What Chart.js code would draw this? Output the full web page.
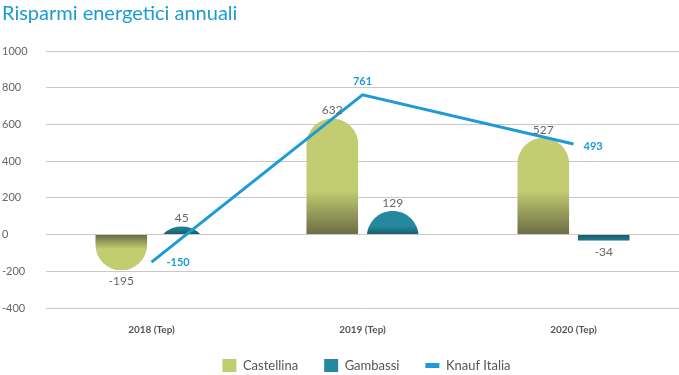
<!DOCTYPE html>
<html>
<head>
<meta charset="utf-8">
<script src="https://cdn.jsdelivr.net/npm/chart.js@4.4.0/dist/chart.umd.min.js"></script>
<style>
  html, body { margin: 0; padding: 0; background: #fff; }
</style>
</head>
<body>
<canvas id="myChart" width="679" height="375"></canvas>
<script>
const categories = ['2018 (Tep)', '2019 (Tep)', '2020 (Tep)'];
const castellina = [-195, 632, 527];
const gambassi = [45, 129, -34];
const knaufItalia = [-150, 761, 493];
const yTicks = [-400, -200, 0, 200, 400, 600, 800, 1000];

const FONT = 'Lato';

// bars with a round cap on the far side, gradient darker near the zero line
const roundBars = {
  id: 'roundBars',
  beforeDatasetDraw(chart, args) {
    const meta = args.meta;
    if (meta.type !== 'bar') return;
    const ds = chart.data.datasets[args.index];
    const ctx = chart.ctx;
    meta.data.forEach(bar => {
      const { x, y, base, width } = bar.getProps(['x', 'y', 'base', 'width'], true);
      const r = width / 2;
      const h = Math.abs(base - y);
      const up = y < base;
      const fade = up ? ds.fadeUp : ds.fadeDown;
      const g = ctx.createLinearGradient(0, base, 0, up ? base - fade : base + fade);
      g.addColorStop(0, ds.darkColor);
      g.addColorStop(1, ds.backgroundColor);
      ctx.save();
      ctx.beginPath();
      ctx.rect(x - r, Math.min(y, base), width, h);
      ctx.clip();
      ctx.beginPath();
      if (h < 7) {
        ctx.rect(x - r, Math.min(y, base), width, h);
      } else if (up) {
        ctx.moveTo(x - r, base);
        ctx.lineTo(x - r, y + r);
        ctx.arc(x, y + r, r, Math.PI, 0);
        ctx.lineTo(x + r, base);
      } else {
        ctx.moveTo(x - r, base);
        ctx.lineTo(x - r, y - r);
        ctx.arc(x, y - r, r, Math.PI, 0, true);
        ctx.lineTo(x + r, base);
      }
      ctx.closePath();
      ctx.fillStyle = g;
      ctx.fill();
      ctx.restore();
    });
    return false;
  }
};

const valueLabels = {
  id: 'valueLabels',
  afterDatasetsDraw(chart) {
    const ctx = chart.ctx;
    chart.data.datasets.forEach((ds, di) => {
      const meta = chart.getDatasetMeta(di);
      const last = meta.data.length - 1;
      meta.data.forEach((el, i) => {
        const v = ds.data[i];
        ctx.save();
        if (meta.type === 'bar') {
          ctx.font = '12px ' + FONT;
          ctx.fillStyle = '#666';
          ctx.textAlign = 'center';
          if (v >= 0) {
            ctx.textBaseline = 'bottom';
            ctx.fillText(v, el.x, el.y - 2);
          } else {
            ctx.textBaseline = 'top';
            ctx.fillText(v, el.x, el.y + 5);
          }
        } else {
          ctx.font = 'bold 11px ' + FONT;
          ctx.fillStyle = '#1a9ad6';
          if (i === 0 || i === last) {
            ctx.textAlign = 'left';
            ctx.textBaseline = 'middle';
            ctx.fillText(v, el.x + (i === 0 ? 15 : 10), el.y + (i === 0 ? 0 : 2));
          } else {
            ctx.textAlign = 'center';
            ctx.textBaseline = 'bottom';
            ctx.fillText(v, el.x, el.y - 8);
          }
        }
        ctx.restore();
      });
    });
  }
};

// nudge the legend row: a bit higher and right of centre, as in the original
const legendNudge = {
  id: 'legendNudge',
  afterLayout(chart) {
    const lg = chart.legend;
    if (!lg) return;
    lg.top -= 5;
    lg.bottom -= 5;
    lg.left += 26;
    lg.right += 26;
  }
};

const ctx = document.getElementById('myChart');

new Chart(ctx, {
  type: 'bar',
  data: {
    labels: categories,
    datasets: [
      {
        type: 'line',
        label: 'Knauf Italia',
        data: knaufItalia,
        borderColor: '#1e9ad8',
        backgroundColor: '#1e9ad8',
        borderWidth: 3,
        pointRadius: 0,
        tension: 0,
        order: 0
      },
      {
        label: 'Castellina',
        data: castellina,
        backgroundColor: '#c2cd72',
        darkColor: '#6c6d44',
        fadeUp: 44,
        fadeDown: 14,
        order: 1
      },
      {
        label: 'Gambassi',
        data: gambassi,
        backgroundColor: '#24899e',
        darkColor: '#1a5d6e',
        fadeUp: 8,
        fadeDown: 8,
        order: 1
      }
    ]
  },
  options: {
    responsive: false,
    animation: false,
    layout: { padding: { left: 2, right: 0, top: 0, bottom: -12 } },
    datasets: {
      bar: { categoryPercentage: 0.573, barPercentage: 0.86 }
    },
    scales: {
      x: {
        afterFit: scale => { scale.height = 30; },
        grid: { display: false, drawTicks: false },
        border: { display: false },
        ticks: {
          padding: 16,
          color: '#555',
          font: { family: FONT, size: 10, weight: 'bold' }
        }
      },
      y: {
        min: yTicks[0],
        max: yTicks[yTicks.length - 1],
        afterBuildTicks: scale => { scale.ticks = yTicks.map(v => ({ value: v })); },
        afterFit: scale => { scale.width = 44; },
        grid: { color: '#c8c8c8', drawTicks: false },
        border: { display: false },
        ticks: {
          crossAlign: 'far',
          color: '#666',
          font: { family: FONT, size: 11 },
          callback: v => String(v)
        }
      }
    },
    plugins: {
      title: {
        display: true,
        text: 'Risparmi energetici annuali',
        align: 'start',
        color: '#1a9ad6',
        font: { family: FONT, size: 20, weight: 'normal' },
        padding: { top: 2, bottom: 25 }
      },
      legend: {
        position: 'bottom',
        labels: {
          usePointStyle: true,
          pointStyleWidth: 14,
          boxHeight: 14,
          padding: 26,
          color: '#555',
          font: { family: FONT, size: 13 },
          generateLabels: chart => {
            const ds = chart.data.datasets;
            return [1, 2, 0].map(i => ({
              text: ds[i].label,
              fillStyle: ds[i].backgroundColor,
              strokeStyle: ds[i].type === 'line' ? ds[i].borderColor : ds[i].backgroundColor,
              lineWidth: ds[i].type === 'line' ? 5 : 0,
              pointStyle: ds[i].type === 'line' ? 'line' : 'rect',
              fontColor: '#555',
              datasetIndex: i,
              hidden: false
            }));
          }
        }
      },
      tooltip: { enabled: false }
    }
  },
  plugins: [roundBars, valueLabels, legendNudge]
});
</script>
</body>
</html>
